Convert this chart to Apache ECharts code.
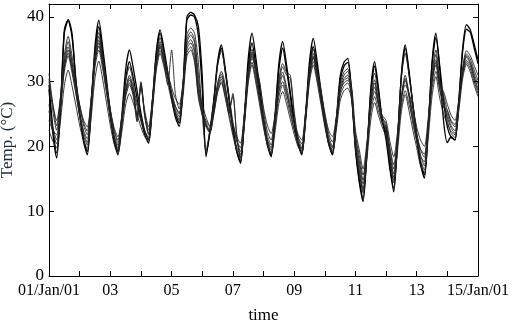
<!DOCTYPE html>
<html>
<head>
<meta charset="utf-8">
<script src="https://cdn.jsdelivr.net/npm/echarts@6/dist/echarts.min.js"></script>
<style>
  body { margin: 0; background: #fff; }
  #tempChart { width: 514px; height: 326px; }
</style>
</head>
<body>
<div id="tempChart"></div>
<script>
// hours since 01/Jan/01 00:00, one sample every 3 h
var hours = [];
for (var h = 0; h <= 336; h += 3) hours.push(h);

// tick labels every 48 h
var xTickLabels = ["01/Jan/01", "03", "05", "07", "09", "11", "13", "15/Jan/01"];
var yTicks = [0, 10, 20, 30, 40];

// temperatures (°C), 8 samples per day + end point
var s1 = [29.5,23.0,19.0,26.2,38.0,39.6,37.5,30.4, 25.3,21.2,19.2,26.3,35.4,39.5,35.4,30.4, 25.3,21.2,19.2,24.7,31.8,34.9,32.1,28.6, 25.2,22.4,21.0,27.0,34.6,38.0,35.1,31.5, 27.9,25.0,23.6,29.6,40.0,40.7,40.3,38.5, 31.0,18.4,22.4,27.1,33.0,35.7,32.1,27.6, 23.0,19.4,17.6,24.6,33.5,37.5,33.7,29.0, 24.3,20.5,18.6,24.8,32.7,36.2,32.7,28.4, 24.1,20.6,18.9,25.1,33.1,36.7,33.1,28.6, 24.2,20.6,18.8,24.1,30.8,33.0,33.6,28.0, 19.5,14.5,11.5,19.1,28.8,33.1,29.1,24.1, 21.0,16.5,13.0,20.9,31.2,35.7,31.6,26.4, 21.3,17.2,15.1,22.9,33.0,37.5,32.0,24.0, 20.6,21.5,21.0,27.2,35.2,38.8,38.0,35.8, 33.4];
var s2 = [28.8,22.0,18.2,25.6,37.5,39.4,37.0,30.1, 24.9,20.8,18.7,25.6,34.5,38.5,34.5,29.6, 24.6,20.7,18.7,23.7,30.2,33.1,30.6,27.4, 24.3,21.8,20.5,26.5,34.1,37.5,34.6,31.0, 27.4,24.5,23.1,29.1,39.5,40.3,40.0,37.0, 29.0,18.8,22.0,26.6,32.6,35.2,31.6,27.2, 22.7,19.2,17.4,23.9,32.3,36.0,32.5,28.1, 23.7,20.2,18.4,24.3,31.8,35.2,31.9,27.8, 23.6,20.4,18.7,24.5,32.1,35.4,32.1,27.9, 23.7,20.4,18.7,23.7,30.1,32.4,33.0,28.6, 19.8,15.0,12.0,19.1,28.3,32.4,28.6,23.9, 22.0,17.0,13.5,21.1,30.9,35.2,31.3,26.4, 21.5,17.6,15.6,23.0,32.6,36.8,32.5,27.0, 23.0,21.4,21.0,27.0,34.7,38.1,37.6,35.2, 32.8];
var s3 = [30.5,25.5,22.5,27.6,34.1,37.0,34.0,30.2, 26.4,23.3,21.8,27.3,34.4,37.6,34.2,29.9, 25.7,22.3,20.6,24.7,30.0,32.3,29.8,24.5, 29.5,24.5,22.0,27.2,33.8,36.8,34.4,31.5, 28.5,26.2,25.0,29.7,37.2,38.3,37.5,33.0, 25.0,19.4,22.6,26.9,32.4,34.8,31.7,27.8, 23.9,20.8,19.2,24.7,31.8,35.0,32.0,28.3, 24.6,21.7,20.2,24.6,30.3,32.8,31.5,31.0, 25.5,21.5,19.8,25.1,32.0,35.0,32.0,28.2, 24.5,21.5,20.0,24.2,29.6,31.5,32.0,28.5, 20.5,16.5,13.5,19.7,27.7,31.3,28.1,24.5, 23.0,18.5,15.2,21.9,30.6,34.4,30.9,26.6, 22.2,18.7,17.0,23.3,31.3,34.9,30.5,26.5, 24.5,22.8,22.0,26.5,32.2,34.8,34.0,32.5, 31.0];
var s4 = [26.5,23.0,21.0,26.3,33.2,36.2,33.1,29.2, 25.3,22.2,20.6,26.3,33.7,37.0,33.6,29.3, 25.0,21.5,19.8,23.7,28.8,31.0,29.1,26.7, 24.3,22.4,21.4,26.6,33.2,36.2,33.8,30.8, 27.8,25.4,24.2,28.9,36.5,37.7,36.5,31.0, 26.0,23.5,22.2,25.5,29.7,31.6,29.5,25.0, 28.2,22.0,18.4,24.1,31.4,34.6,31.6,27.8, 24.0,20.9,19.4,23.9,29.7,32.3,31.0,30.5, 25.0,21.0,19.3,24.6,31.4,34.4,31.4,27.6, 23.9,20.9,19.4,23.7,29.2,31.0,31.6,28.0, 20.0,15.8,12.8,18.9,26.8,30.3,27.0,24.0, 22.5,18.0,14.4,20.2,27.7,31.0,28.1,24.4, 20.8,17.9,16.4,22.6,30.6,34.2,30.0,27.5, 24.0,22.0,21.4,25.9,31.7,34.3,33.5,31.8, 30.2];
var s5 = [31.3,26.5,23.2,27.5,33.0,35.4,32.8,29.5, 26.3,23.7,22.4,27.3,33.6,36.4,33.3,29.5, 25.6,22.5,21.0,24.4,28.7,30.6,28.5,24.0, 30.0,25.0,22.5,27.2,33.1,35.8,33.0,29.5, 34.9,28.0,25.8,29.8,36.0,37.2,36.0,30.0, 25.5,24.0,23.0,25.9,29.6,31.2,28.9,26.1, 23.2,20.9,19.8,24.9,31.4,34.3,32.5,30.0, 25.5,22.3,21.0,24.7,29.4,31.5,29.3,26.5, 23.7,21.5,20.4,25.2,31.3,34.0,31.5,28.5, 25.0,22.0,20.7,24.3,28.9,30.5,31.0,28.8, 21.5,17.8,14.8,20.1,26.8,29.8,27.0,24.5, 23.5,19.5,16.5,21.4,27.7,30.5,28.0,25.0, 22.0,19.5,18.3,23.6,30.4,33.4,30.0,28.0, 25.5,23.8,23.0,26.9,31.8,34.0,33.0,31.2, 29.6];
var s6 = [25.5,22.2,20.4,25.5,32.0,34.9,32.0,28.3, 24.6,21.7,20.2,25.7,32.8,36.0,32.7,28.6, 24.5,21.2,19.5,23.3,28.1,30.3,28.5,26.2, 23.9,22.1,21.2,26.2,32.6,35.5,33.3,30.6, 27.9,25.7,24.6,28.8,35.5,36.5,35.0,29.0, 25.0,23.2,22.3,25.3,29.1,30.8,29.0,25.5, 27.8,21.5,18.0,23.6,30.8,34.0,31.0,27.2, 23.5,20.5,19.0,23.2,28.6,31.0,28.6,25.6, 22.7,20.3,19.1,24.2,30.9,33.8,30.9,27.2, 23.5,20.6,19.1,23.1,28.3,30.2,30.6,27.5, 20.8,17.2,14.2,19.5,26.2,29.2,26.5,23.5, 22.8,18.8,15.8,20.8,27.3,30.2,27.5,23.5, 20.8,18.5,17.6,23.0,29.9,33.0,29.0,26.5, 25.0,23.2,22.4,26.4,31.5,33.8,32.8,30.8, 29.0];
var s7 = [30.0,26.5,24.0,27.6,32.3,34.4,32.1,29.3, 26.4,24.1,23.0,27.4,33.0,35.5,32.7,29.2, 25.7,22.9,21.5,24.4,28.1,29.8,28.0,24.8, 29.0,25.5,23.0,27.3,32.8,35.3,33.5,31.3, 29.1,27.4,26.5,29.8,35.0,36.0,34.5,28.5, 26.5,24.5,23.2,25.7,29.0,30.4,28.4,25.9, 23.5,21.5,20.5,25.1,31.0,33.6,32.3,29.8, 26.0,23.3,22.0,24.8,28.4,30.0,28.2,26.0, 23.7,21.9,21.0,25.4,31.1,33.6,31.8,28.8, 25.2,22.5,21.5,24.5,28.5,29.8,30.2,29.2, 22.5,19.5,16.5,20.7,26.1,28.5,26.5,24.8, 24.0,20.8,18.4,22.3,27.3,29.5,28.2,26.0, 23.0,21.0,20.0,24.4,30.1,32.6,29.5,28.5, 26.5,24.8,24.0,27.3,31.4,33.3,32.5,30.5, 28.6];
var s8 = [24.0,22.5,21.8,26.1,31.6,34.0,31.4,28.2, 25.0,22.5,21.2,26.0,32.2,34.9,32.0,28.3, 24.6,21.7,20.2,23.5,27.6,29.5,27.8,23.8, 29.8,24.8,21.8,26.4,32.2,34.8,32.9,30.5, 28.1,26.2,25.2,28.8,34.5,35.4,33.5,28.0, 25.2,23.6,22.5,25.1,28.5,30.0,27.8,25.0, 22.2,19.9,18.8,23.8,30.2,33.0,30.4,27.1, 23.8,21.1,19.8,23.2,27.6,29.5,27.5,25.0, 22.6,20.6,19.6,24.3,30.4,33.1,30.4,27.1, 23.8,21.1,19.8,23.3,27.8,29.3,29.8,27.8, 21.8,18.6,15.6,19.8,25.3,27.7,25.5,23.8, 23.0,19.8,17.2,21.2,26.3,28.6,26.5,24.0, 21.5,19.6,18.8,23.3,29.0,31.6,28.8,26.0, 25.6,24.0,23.4,26.8,31.1,33.0,32.0,30.0, 28.2];
var s9 = [22.5,20.8,19.8,24.0,29.4,31.8,29.4,26.4, 23.3,20.9,19.7,24.4,30.5,33.2,30.4,26.8, 23.3,20.4,19.0,22.2,26.4,28.2,26.7,24.9, 23.0,21.5,20.8,25.6,31.7,34.4,32.3,29.7, 27.1,25.0,24.0,27.8,34.0,34.9,33.0,27.5, 24.8,23.0,22.1,24.8,28.3,29.8,27.5,24.6, 21.7,19.4,18.2,23.2,29.7,32.6,29.8,26.4, 22.9,20.2,18.8,22.2,26.6,28.5,26.6,24.2, 21.9,20.0,19.0,23.8,29.9,32.6,29.9,26.5, 23.1,20.4,19.0,22.5,27.0,28.6,29.0,27.2, 20.2,16.0,13.2,18.0,24.1,26.8,24.8,23.0, 21.5,17.8,14.8,19.4,25.4,28.0,25.5,22.5, 19.8,17.0,16.0,21.2,27.8,30.8,27.5,25.0, 23.5,22.3,21.8,25.6,30.5,32.7,31.5,29.5, 27.7];

var allSeries = [s1, s2, s3, s4, s5, s6, s7, s8, s9];

var font = "Liberation Serif";
var black = "#000";

function pairs(vals) {
  return vals.map(function (v, i) { return [hours[i], v]; });
}

var myChart = echarts.init(document.getElementById("tempChart"));

var series = allSeries.map(function (vals, i) {
  return {
    type: "line",
    data: pairs(vals),
    showSymbol: false,
    smooth: 0.25,
    lineStyle: { color: i < 2 ? "#000" : "#222", width: i < 2 ? 1.3 : 0.9 },
    animation: false
  };
});

var baseX = {
  type: "value",
  min: 0,
  max: 336,
  interval: 24,
  splitLine: { show: false },
  axisLine: { show: true, onZero: false, lineStyle: { color: black, width: 1 } },
  axisTick: { show: true, inside: true, length: 5, lineStyle: { color: black } }
};
var baseY = {
  type: "value",
  min: 0,
  max: 42,
  interval: 10,
  splitLine: { show: false },
  axisLine: { show: true, onZero: false, lineStyle: { color: black, width: 1 } },
  axisTick: { show: true, inside: true, length: 5, lineStyle: { color: black } }
};

var option = {
  backgroundColor: "#fff",
  animation: false,
  grid: { left: 49, right: 36, top: 4, bottom: 50, outerBoundsMode: "none", containLabel: false },
  xAxis: [
    Object.assign({}, baseX, {
      position: "bottom",
      name: "time",
      nameLocation: "middle",
      nameGap: 31,
      nameTextStyle: { fontFamily: font, fontSize: 17, color: black },
      axisLabel: {
        margin: 7,
        fontFamily: font,
        fontSize: 16,
        color: black,
        formatter: function (v) {
          return v % 48 === 0 ? xTickLabels[v / 48] : "";
        }
      }
    }),
    Object.assign({}, baseX, { position: "top", axisLabel: { show: false } })
  ],
  yAxis: [
    Object.assign({}, baseY, {
      position: "left",
      name: "Temp. (°C)",
      nameLocation: "middle",
      nameGap: 25,
      nameRotate: 90,
      nameTextStyle: { fontFamily: font, fontSize: 17, color: "#1c2a3a" },
      axisLabel: {
        margin: 5,
        fontFamily: font,
        fontSize: 17,
        color: black,
        showMaxLabel: false,
        formatter: function (v) {
          return yTicks.indexOf(v) >= 0 ? String(v) : "";
        }
      }
    }),
    Object.assign({}, baseY, { position: "right", axisLabel: { show: false } })
  ],
  series: series
};

myChart.setOption(option);
</script>
</body>
</html>
